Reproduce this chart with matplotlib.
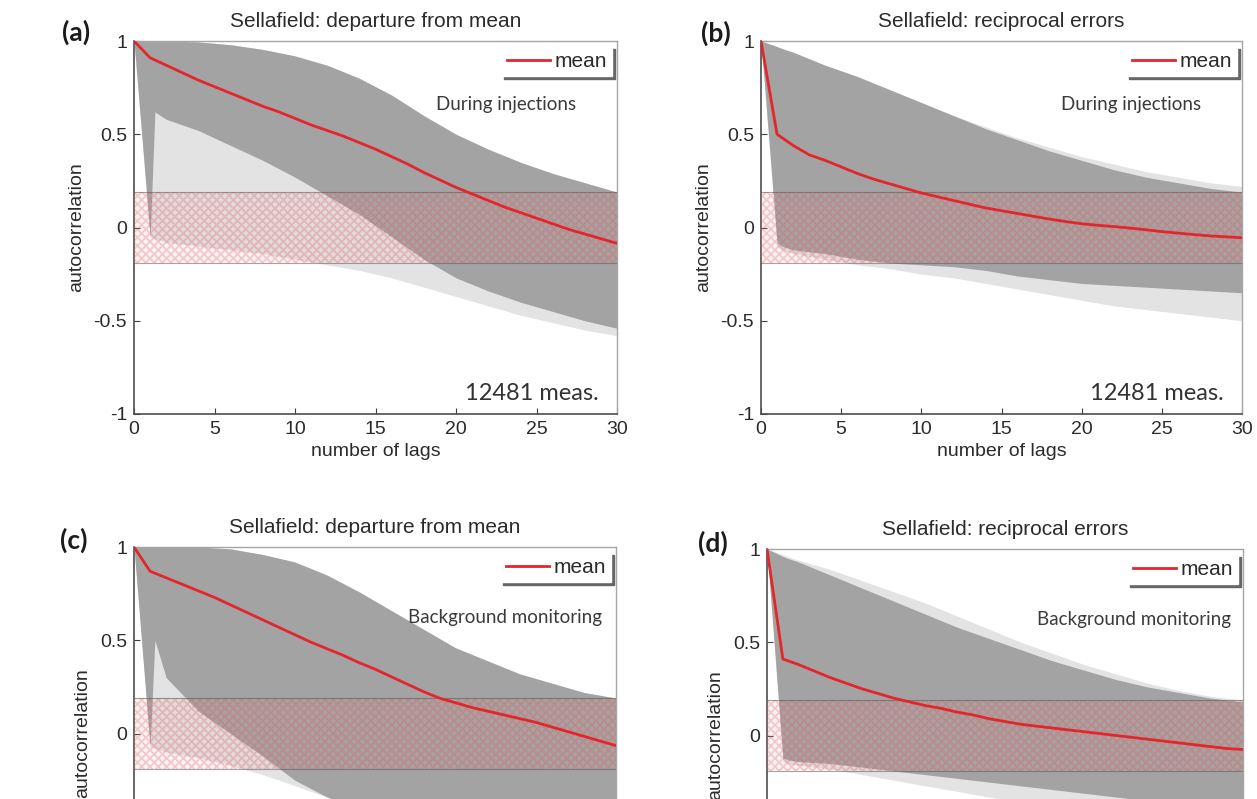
import numpy as np
import matplotlib
matplotlib.use("Agg")
import matplotlib.pyplot as plt

plt.rcParams["font.family"] = ["Liberation Sans", "DejaVu Sans"]
plt.rcParams["hatch.linewidth"] = 1.3

# ---- data ----
LAGS = list(range(31))
ENV_LAGS = [0, 1, 1.3, 2, 4, 6, 8, 10, 12, 14, 16, 18, 20, 22, 24, 26, 28, 30]

# (a) departure from mean, during injections
MEAN_A = [1.00, 0.91, 0.87, 0.83, 0.79, 0.755, 0.72, 0.685, 0.65, 0.62, 0.585,
          0.55, 0.52, 0.49, 0.455, 0.42, 0.38, 0.34, 0.295, 0.255, 0.215,
          0.18, 0.145, 0.11, 0.08, 0.05, 0.02, -0.01, -0.035, -0.06, -0.085]
HI_OUT_A = [1.00, 1.00, 1.00, 1.00, 0.995, 0.98, 0.955, 0.92, 0.87, 0.80, 0.71,
            0.60, 0.50, 0.42, 0.35, 0.29, 0.24, 0.19]
HI_CORE_A = HI_OUT_A
LO_CORE_A = [1.00, -0.05, 0.62, 0.58, 0.52, 0.44, 0.36, 0.27, 0.17, 0.07, -0.05,
             -0.17, -0.27, -0.34, -0.40, -0.45, -0.50, -0.54]
LO_OUT_A = [1.00, -0.05, -0.06, -0.08, -0.10, -0.12, -0.14, -0.17, -0.20, -0.23,
            -0.27, -0.32, -0.37, -0.42, -0.47, -0.51, -0.55, -0.58]

# (b) reciprocal errors, during injections
MEAN_B = [1.00, 0.50, 0.44, 0.39, 0.36, 0.325, 0.29, 0.26, 0.235, 0.21, 0.185,
          0.165, 0.145, 0.125, 0.105, 0.09, 0.075, 0.06, 0.045, 0.032, 0.02,
          0.012, 0.005, -0.003, -0.012, -0.022, -0.03, -0.038, -0.045, -0.05, -0.055]
HI_OUT_B = [1.00, 0.97, 0.96, 0.94, 0.87, 0.81, 0.74, 0.67, 0.60, 0.54, 0.48,
            0.43, 0.38, 0.34, 0.30, 0.27, 0.24, 0.22]
HI_CORE_B = [1.00, 0.97, 0.96, 0.94, 0.87, 0.81, 0.74, 0.67, 0.60, 0.53, 0.47,
             0.41, 0.36, 0.31, 0.27, 0.24, 0.21, 0.19]
LO_CORE_B = [1.00, -0.08, -0.10, -0.12, -0.14, -0.17, -0.19, -0.20, -0.21, -0.23,
             -0.26, -0.28, -0.30, -0.31, -0.32, -0.33, -0.34, -0.35]
LO_OUT_B = [1.00, -0.10, -0.12, -0.14, -0.17, -0.20, -0.22, -0.25, -0.27, -0.30,
            -0.33, -0.36, -0.39, -0.42, -0.44, -0.46, -0.48, -0.50]

# (c) departure from mean, background monitoring
MEAN_C = [1.00, 0.87, 0.835, 0.80, 0.765, 0.73, 0.69, 0.65, 0.61, 0.57, 0.53,
          0.49, 0.455, 0.42, 0.38, 0.345, 0.305, 0.265, 0.225, 0.19, 0.165,
          0.14, 0.12, 0.10, 0.08, 0.06, 0.035, 0.01, -0.015, -0.04, -0.065]
HI_OUT_C = [1.00, 1.00, 1.00, 1.00, 1.00, 0.99, 0.96, 0.92, 0.85, 0.76, 0.66,
            0.56, 0.46, 0.39, 0.32, 0.27, 0.22, 0.19]
HI_CORE_C = HI_OUT_C
LO_CORE_C = [1.00, -0.07, 0.50, 0.30, 0.12, 0.00, -0.12, -0.25, -0.34, -0.41,
             -0.47, -0.52, -0.57, -0.61, -0.65, -0.68, -0.71, -0.73]
LO_OUT_C = [1.00, -0.07, -0.08, -0.10, -0.13, -0.17, -0.22, -0.28, -0.34, -0.40,
            -0.46, -0.52, -0.58, -0.63, -0.68, -0.72, -0.76, -0.80]

# (d) reciprocal errors, background monitoring
MEAN_D = [1.00, 0.41, 0.38, 0.345, 0.31, 0.28, 0.25, 0.225, 0.20, 0.18, 0.16,
          0.145, 0.125, 0.11, 0.09, 0.075, 0.06, 0.05, 0.04, 0.03, 0.02,
          0.01, 0.0, -0.01, -0.02, -0.03, -0.04, -0.05, -0.06, -0.07, -0.075]
HI_OUT_D = [1.00, 0.97, 0.96, 0.94, 0.89, 0.83, 0.77, 0.71, 0.64, 0.57, 0.50,
            0.44, 0.38, 0.33, 0.28, 0.24, 0.21, 0.19]
HI_CORE_D = [1.00, 0.96, 0.95, 0.93, 0.86, 0.79, 0.72, 0.65, 0.58, 0.52, 0.46,
             0.40, 0.35, 0.30, 0.26, 0.23, 0.20, 0.18]
LO_CORE_D = [1.00, -0.12, -0.13, -0.14, -0.15, -0.17, -0.19, -0.21, -0.23, -0.25,
             -0.27, -0.29, -0.31, -0.33, -0.35, -0.37, -0.39, -0.41]
LO_OUT_D = [1.00, -0.14, -0.15, -0.16, -0.18, -0.21, -0.24, -0.27, -0.30, -0.33,
            -0.36, -0.39, -0.42, -0.45, -0.48, -0.50, -0.52, -0.54]

BAND = 0.19   # significance band +-
PANEL_LABELS = ["(a)", "(b)", "(c)", "(d)"]
TITLES = ["Sellafield: departure from mean", "Sellafield: reciprocal errors",
          "Sellafield: departure from mean", "Sellafield: reciprocal errors"]
PHASES = ["During injections", "During injections",
          "Background monitoring", "Background monitoring"]
N_MEAS = "12481 meas."
YTICKS = [-1, -0.5, 0, 0.5, 1]
YTICK_LABELS = ["-1", "-0.5", "0", "0.5", "1"]

panels = [
    (MEAN_A, HI_OUT_A, HI_CORE_A, LO_CORE_A, LO_OUT_A),
    (MEAN_B, HI_OUT_B, HI_CORE_B, LO_CORE_B, LO_OUT_B),
    (MEAN_C, HI_OUT_C, HI_CORE_C, LO_CORE_C, LO_OUT_C),
    (MEAN_D, HI_OUT_D, HI_CORE_D, LO_CORE_D, LO_OUT_D),
]

W, H = 1257, 799
fig = plt.figure(figsize=(W / 100, H / 100), dpi=100)

# axes boxes in pixels: left, top, width, height
boxes = [(134, 41, 483, 373), (761, 41, 481, 373),
         (134, 547, 482, 373), (767, 549, 476, 373)]
label_pos = [(76, 32), (716, 33), (74, 540), (713, 543)]

TXT = "#2b2b2b"
GRAY = "#a3a3a3"

for i, (mean, hi_out, hi_core, lo_core, lo_out) in enumerate(panels):
    l, t, w, h = boxes[i]
    ax = fig.add_axes([l / W, 1 - (t + h) / H, w / W, h / H])
    top_row = i < 2

    ax.fill_between(ENV_LAGS, lo_out, hi_out, color=GRAY, alpha=0.30, lw=0, zorder=1)
    ax.fill_between(ENV_LAGS, lo_core, hi_core, color=GRAY, lw=0, zorder=2)

    # +-0.19 band, pink checkered
    ax.fill_between([0, 30], [-BAND, -BAND], [BAND, BAND],
                    facecolor=(0.95, 0.55, 0.55, 0.10),
                    edgecolor=(0.85, 0.35, 0.35, 0.28),
                    hatch="xxxx", lw=0, zorder=3)
    ax.axhline(BAND, color="0.35", lw=0.8, alpha=0.55, zorder=3)
    ax.axhline(-BAND, color="0.35", lw=0.8, alpha=0.55, zorder=3)

    ax.plot(LAGS, mean, color="#e3262b", lw=2.0, label="mean", zorder=4)

    ax.set_xlim(0, 30)
    ax.set_ylim(-1, 1)
    ax.set_xticks(range(0, 31, 5))
    ax.set_yticks(YTICKS)
    if top_row:
        ax.set_yticklabels(YTICK_LABELS)
    else:
        # lower panels are cropped at y just below -0.2
        ax.set_yticklabels(["", ""] + YTICK_LABELS[2:])
    ax.tick_params(direction="in", length=4, width=0.8, labelsize=14,
                   colors="0.25", labelcolor=TXT, pad=5,
                   labelbottom=top_row)
    for side in ["top", "right"]:
        ax.spines[side].set_color("0.65")
        ax.spines[side].set_linewidth(1.0)
    for side in ["bottom", "left"]:
        ax.spines[side].set_color("0.3")
        ax.spines[side].set_linewidth(1.2)

    ax.set_title(TITLES[i], fontsize=15, color=TXT, pad=10)
    ax.set_ylabel("autocorrelation", fontsize=14, color=TXT, labelpad=6)
    if top_row:
        ax.set_xlabel("number of lags", fontsize=14, color=TXT, labelpad=4)

    leg = ax.legend(loc="upper right", bbox_to_anchor=(0.99, 0.985),
                    fontsize=15, frameon=True, fancybox=False,
                    shadow={"color": "0.4", "alpha": 1},
                    handlelength=2.1, handletextpad=0.2, borderpad=0.25,
                    borderaxespad=0)
    leg.get_frame().set_edgecolor("white")
    leg.get_frame().set_facecolor("white")
    leg.get_frame().set_alpha(1)
    for txt in leg.get_texts():
        txt.set_color(TXT)
    leg.set_zorder(6)

    ax.text(0.77, 0.83 if top_row else 0.81, PHASES[i], transform=ax.transAxes,
            ha="center", va="center", fontsize=13.5, color="#3a3a3a",
            family=["Lato", "DejaVu Sans"], zorder=6)
    if top_row:
        ax.text(0.962, 0.055, N_MEAS, transform=ax.transAxes, ha="right",
                va="center", fontsize=17, color="#333333",
                family=["Lato", "DejaVu Sans"], zorder=6)

    lx, ly = label_pos[i]
    fig.text(lx / W, 1 - ly / H, PANEL_LABELS[i], ha="center", va="center",
             fontsize=19, fontweight="bold", color="#1a1a1a",
             family=["Lato", "DejaVu Sans"])

fig.savefig("out.png", dpi=100)
